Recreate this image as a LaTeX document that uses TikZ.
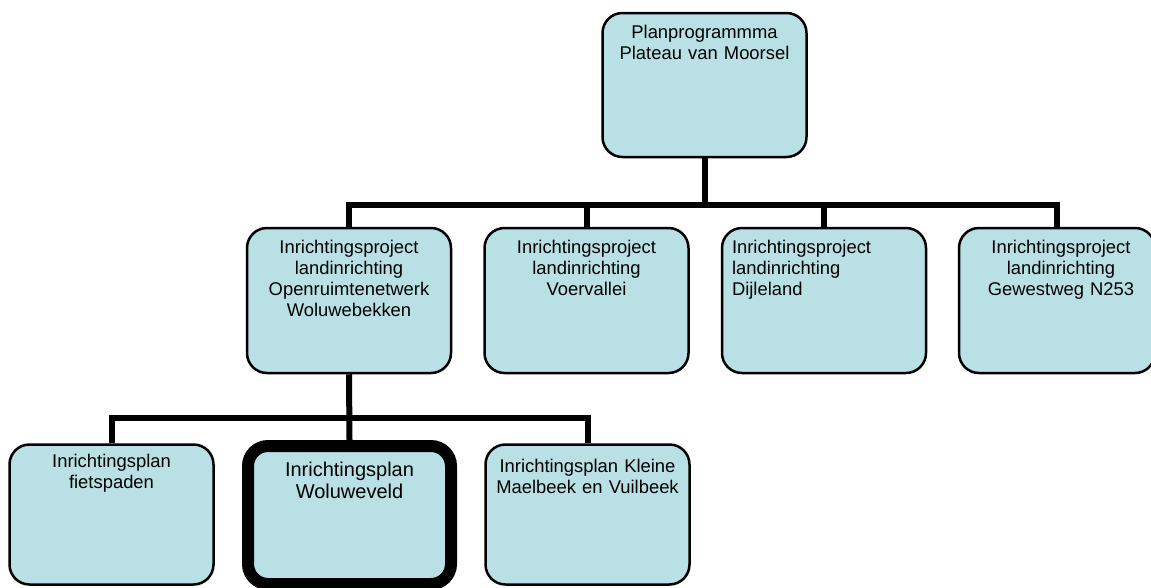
\documentclass[tikz,border=0pt]{standalone}
\usepackage{fontspec}
\setmainfont{Liberation Sans}
\usetikzlibrary{positioning, calc}

\definecolor{planblauw}{RGB}{185,224,228}

\tikzset{
    planbox/.style={rectangle,draw=black,line width=2.5pt,fill=planblauw,rounded corners=20pt,minimum width=204pt,minimum height=144pt,inner sep=0pt},
    plantekst/.style={font=\fontsize{18.4}{21}\selectfont,text width=200pt,align=center,inner sep=0pt},
    lijn/.style={line width=6pt,line join=miter}
}

\begin{document}
\begin{tikzpicture}[x=1pt,y=1pt]
    \useasboundingbox (0,0) rectangle (1151,-587);

    % Planprogramma
    \node[planbox] (top) at (704.5,-85) {};
    \node[plantekst,below=13pt of top.north] (t0) {Planprogrammma\\Plateau van Moorsel};

    % Inrichtingsprojecten
    \node[planbox,minimum height=145pt] (p1) at (349,-300.5) {};
    \node[planbox,minimum height=145pt] (p2) at (586.5,-300.5) {};
    \node[planbox,minimum height=145pt] (p3) at (824,-300.5) {};
    \node[planbox,minimum height=145pt,minimum width=196pt] (p4) at (1057,-300.5) {};
    \node[plantekst,below=13pt of p1.north] (t1) {Inrichtingsproject\\landinrichting\\Openruimtenetwerk\\Woluwebekken};
    \node[plantekst,below=13pt of p2.north] (t2) {Inrichtingsproject\\landinrichting\\Voervallei};
    \node[plantekst,text width=184pt,align=left,below=13pt of p3.north] (t3) {Inrichtingsproject\\landinrichting\\Dijleland};
    \node[plantekst,below=13pt of p4.north,xshift=4pt] (t4) {Inrichtingsproject\\landinrichting\\Gewestweg N253};

    % Inrichtingsplannen
    \node[planbox,minimum height=140pt] (q1) at (111.5,-514.5) {};
    \node[planbox,minimum height=138pt,minimum width=203pt,line width=12pt] (q2) at (349.5,-515) {};
    \node[planbox,minimum height=140pt] (q3) at (587.5,-514.5) {};
    \node[plantekst,below=11pt of q1.north] (u1) {Inrichtingsplan\\fietspaden};
    \node[plantekst,font=\fontsize{20}{22}\selectfont,below=22pt of q2.north] (u2) {Inrichtingsplan\\Woluweveld};
    \node[plantekst,below=16pt of q3.north] (u3) {Inrichtingsplan Kleine\\Maelbeek en Vuilbeek};

    % Verbindingen
    \coordinate (bus1) at (704.5,-205);
    \coordinate (bus2) at (349,-418);
    \draw[lijn] (top.south) -- (bus1);
    \draw[lijn] (p1.north) |- (bus1) -| (p4.north);
    \draw[lijn] (p2.north) -- (p2.north |- bus1);
    \draw[lijn] (p3.north) -- (p3.north |- bus1);
    \draw[lijn] (p1.south) -- (q2.north);
    \draw[lijn] (q1.north) |- (bus2) -| (q3.north);
\end{tikzpicture}
\end{document}
